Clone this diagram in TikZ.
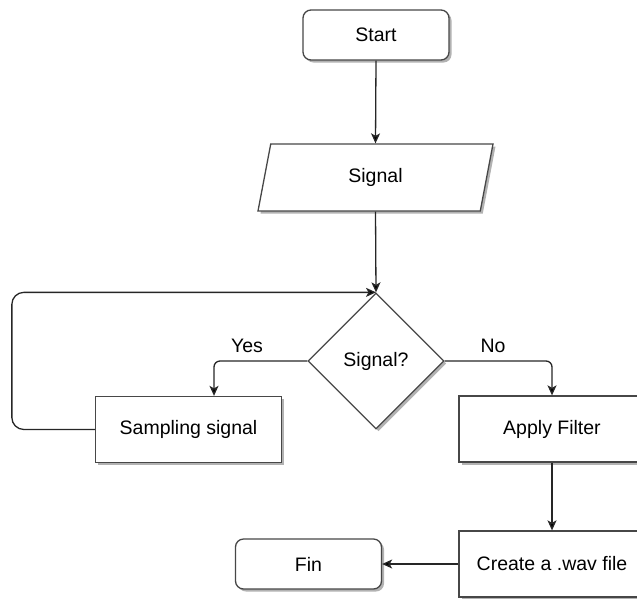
\documentclass[tikz,border=0pt]{standalone}
\usepackage{fontspec}
\setmainfont{Liberation Sans}
\usetikzlibrary{shapes.geometric,shadows,arrows.meta}
\tikzset{every picture/.style={line width=1.3pt}}
\tikzset{
  boxshadow/.style={drop shadow={shadow xshift=2.5pt,shadow yshift=-2.5pt,fill=black!55,opacity=0.55}},
  basebox/.style={draw=black!72,fill=white,boxshadow,inner sep=0pt,font=\fontsize{19.5}{23}\selectfont},
  termbox/.style={basebox,rounded corners=8pt,minimum width=146pt,minimum height=50pt},
  procbox/.style={basebox,minimum width=186pt,minimum height=66pt},
  iobox/.style={basebox,trapezium,trapezium left angle=55,trapezium right angle=125,trapezium stretches body,minimum width=235pt,minimum height=67pt},
  decbox/.style={basebox,diamond,aspect=1,minimum width=136pt,minimum height=136pt},
  flow/.style={draw=black!85,-{Stealth[length=10pt,width=9pt,inset=2.5pt,fill=black]}},
  lbl/.style={font=\fontsize{19.5}{23}\selectfont}
}
\begin{document}
\begin{tikzpicture}[x=1pt,y=-1pt]
\useasboundingbox (0,0) rectangle (637,598);

%Shapes
\node[termbox] (start) at (376,35) {Start};
\node[iobox] (sig) at (375.5,177.5) {Signal};
\node[decbox] (dec) at (376,361) {Signal?};
\node[procbox] (samp) at (188.5,429.5) {Sampling signal};
\node[procbox] (filt) at (552,429) {Apply Filter};
\node[procbox] (wav) at (552,564) {Create a .wav file};
\node[termbox] (fin) at (308.5,564) {Fin};

%Labels
\node[lbl] (yes) at (247,346) {Yes};
\node[lbl] (no) at (493,346) {No};

%Connectors
\draw[flow] (start.south) -- (sig.north);
\draw[flow] (sig.south) -- (dec.north);
\draw[flow,rounded corners=6pt] (dec.west) -| ([xshift=25.5pt]samp.north);
\draw[flow,rounded corners=6pt] (dec.east) -| (filt.north);
\draw[flow,rounded corners=12pt] (samp.west) -- ++(-83,0) |- (dec.north);
\draw[flow] (filt.south) -- (wav.north);
\draw[flow] (wav.west) -- (fin.east);

\end{tikzpicture}
\end{document}
